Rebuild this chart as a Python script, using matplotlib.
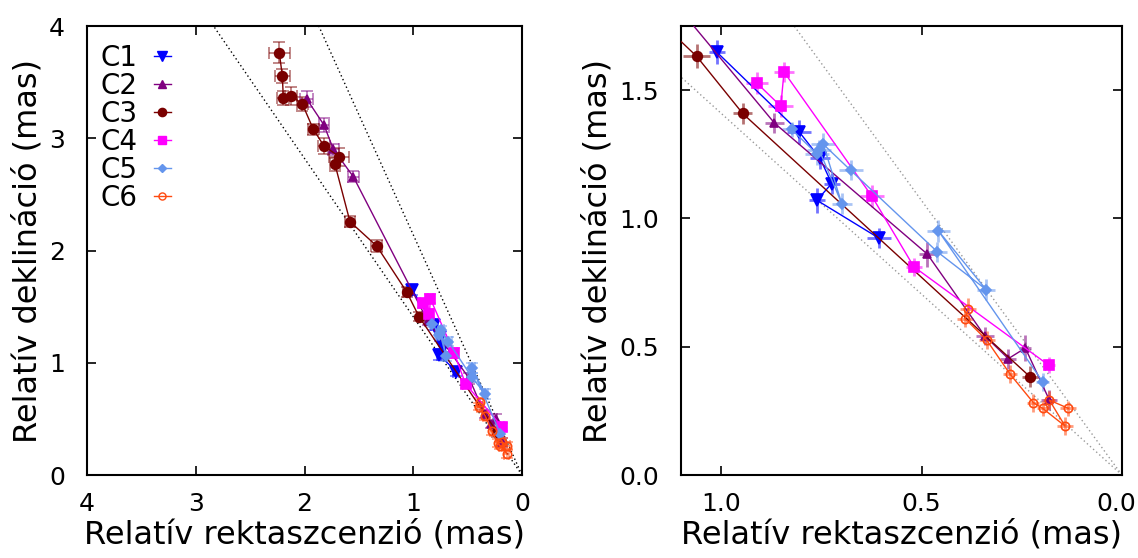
import matplotlib
matplotlib.use('Agg')
import matplotlib.pyplot as plt
import matplotlib.colors as mcolors
import matplotlib.transforms as mtransforms
from matplotlib.lines import Line2D

# component positions (mas)
c1_ra = [1.011, 0.805, 0.753, 0.724, 0.761, 0.605]
c1_dec = [1.649, 1.337, 1.234, 1.136, 1.071, 0.922]
c1_ra_err = [0.02, 0.03, 0.025, 0.02, 0.02, 0.03]
c1_dec_err = [0.047, 0.045, 0.04, 0.04, 0.049, 0.039]

c2_ra = [1.98, 1.821, 1.735, 1.551, 0.867, 0.4855, 0.342, 0.2835, 0.241, 0.181]
c2_dec = [3.35, 3.118, 2.902, 2.657, 1.372, 0.861, 0.542, 0.4535, 0.495, 0.292]
c2_ra_err = [0.061, 0.05, 0.05, 0.05, 0.024, 0.02, 0.022, 0.02, 0.015, 0.02]
c2_dec_err = [0.074, 0.06, 0.05, 0.05, 0.039, 0.049, 0.035, 0.039, 0.052, 0.039]

c3_ra = [2.232, 2.204, 2.195, 2.124, 2.02, 1.919, 1.821, 1.68, 1.72, 1.582, 1.336, 1.061, 0.946, 0.2294]
c3_dec = [3.762, 3.555, 3.356, 3.379, 3.305, 3.08, 2.931, 2.836, 2.768, 2.257, 2.04, 1.632, 1.409, 0.383]
c3_ra_err = [0.097, 0.066, 0.055, 0.054, 0.05, 0.05, 0.054, 0.092, 0.05, 0.05, 0.05, 0.034, 0.024, 0.02]
c3_dec_err = [0.096, 0.06, 0.064, 0.079, 0.06, 0.05, 0.067, 0.081, 0.06, 0.05, 0.05, 0.047, 0.039, 0.04]

c4_ra = [0.911, 0.851, 0.843, 0.624, 0.519, 0.183]
c4_dec = [1.528, 1.4375, 1.571, 1.087, 0.8115, 0.4285]
c4_ra_err = [0.028, 0.031, 0.025, 0.03, 0.02, 0.015]
c4_dec_err = [0.042, 0.042, 0.039, 0.042, 0.036, 0.032]

c5_ra = [0.824, 0.760, 0.755, 0.699, 0.745, 0.677, 0.4606, 0.339, 0.458, 0.198]
c5_dec = [1.347, 1.250, 1.266, 1.058, 1.289, 1.188, 0.870, 0.723, 0.952, 0.364]
c5_ra_err = [0.025, 0.03, 0.03, 0.025, 0.03, 0.03, 0.025, 0.023, 0.029, 0.017]
c5_dec_err = [0.03, 0.04, 0.04, 0.04, 0.043, 0.04, 0.04, 0.042, 0.042, 0.035]

c6_ra = [0.383, 0.3915, 0.3375, 0.279, 0.221, 0.198, 0.142, 0.181, 0.134]
c6_dec = [0.649, 0.610, 0.526, 0.393, 0.282, 0.26, 0.191, 0.292, 0.26]
c6_ra_err = [0.02, 0.02, 0.02, 0.018, 0.015, 0.015, 0.02, 0.015, 0.02]
c6_dec_err = [0.039, 0.035, 0.035, 0.035, 0.035, 0.03, 0.035, 0.035, 0.03]

# slopes of the dotted guide lines through the core
guide_slopes = [1.41, 2.14]

components = [
    ('C1', c1_ra, c1_dec, c1_ra_err, c1_dec_err, 'v', '#0000ff', 8, 'full'),
    ('C2', c2_ra, c2_dec, c2_ra_err, c2_dec_err, '^', '#800080', 6, 'full'),
    ('C3', c3_ra, c3_dec, c3_ra_err, c3_dec_err, 'o', '#7a0000', 7, 'full'),
    ('C4', c4_ra, c4_dec, c4_ra_err, c4_dec_err, 's', '#ff00ff', 7, 'full'),
    ('C5', c5_ra, c5_dec, c5_ra_err, c5_dec_err, 'D', '#6495ed', 5, 'full'),
    ('C6', c6_ra, c6_dec, c6_ra_err, c6_dec_err, 'o', '#ff4a10', 6, 'none'),
]

fig = plt.figure(figsize=(11.38, 5.58), dpi=100)
ax1 = fig.add_axes([0.0765, 0.1487, 0.3822, 0.8047])
ax2 = fig.add_axes([0.5984, 0.1487, 0.3875, 0.8047])

for ax, guide_col, caps, elw in [(ax1, 'black', 4, 1.2), (ax2, '#999999', 0, 2.0)]:
    for s in guide_slopes:
        ax.axline((0, 0), slope=s, color=guide_col, ls=(0, (1, 2)), lw=1.0, zorder=1)
    for name, ra, dec, era, edec, mk, col, ms, fill in components:
        ax.errorbar(ra, dec, xerr=era, yerr=edec, fmt=mk + '-', color=col, lw=1.0,
                    ms=ms, fillstyle=fill, mew=1.2,
                    ecolor=mcolors.to_rgba(col, 0.55), elinewidth=elw,
                    capsize=caps, capthick=1.2, zorder=3)
    ax.tick_params(direction='in', top=True, right=True, length=6.5, width=1.2,
                   labelsize=18)
    ax.tick_params(axis='x', pad=12)
    ax.tick_params(axis='y', pad=16)
    for sp in ax.spines.values():
        sp.set_linewidth(1.5)
    ax.set_xlabel('Relatív rektaszcenzió (mas)', fontsize=23, labelpad=3)
    ax.set_ylabel('Relatív deklináció (mas)', fontsize=23, labelpad=4)

ax1.set_xlim(4, 0)
ax1.set_ylim(0, 4)
ax1.set_xticks([4, 3, 2, 1, 0])
ax1.set_yticks([0, 1, 2, 3, 4])

ax2.set_xlim(1.1, 0)
ax2.set_ylim(0, 1.75)
ax2.set_xticks([1.0, 0.5, 0.0])
ax2.set_yticks([0.0, 0.5, 1.0, 1.5])
ax2.xaxis.set_major_formatter(matplotlib.ticker.FormatStrFormatter('%.1f'))
ax2.yaxis.set_major_formatter(matplotlib.ticker.FormatStrFormatter('%.1f'))

# keep the last x label of the right panel inside the figure
fig.canvas.draw()
last = ax2.get_xticklabels()[-1]
last.set_transform(last.get_transform() + mtransforms.ScaledTranslation(-6 / 100, 0, fig.dpi_scale_trans))

handles = [Line2D([], [], color=c[6], marker=c[5], ms=c[7] * 0.85, fillstyle=c[8], lw=1.0)
           for c in components]
ax1.legend(handles, [c[0] for c in components], loc='upper left', frameon=False,
           markerfirst=False, fontsize=20, handlelength=0.6, handletextpad=0.6,
           labelspacing=0.0, borderaxespad=0.0, bbox_to_anchor=(0.005, 0.985))

fig.savefig('out.png', dpi=100)
